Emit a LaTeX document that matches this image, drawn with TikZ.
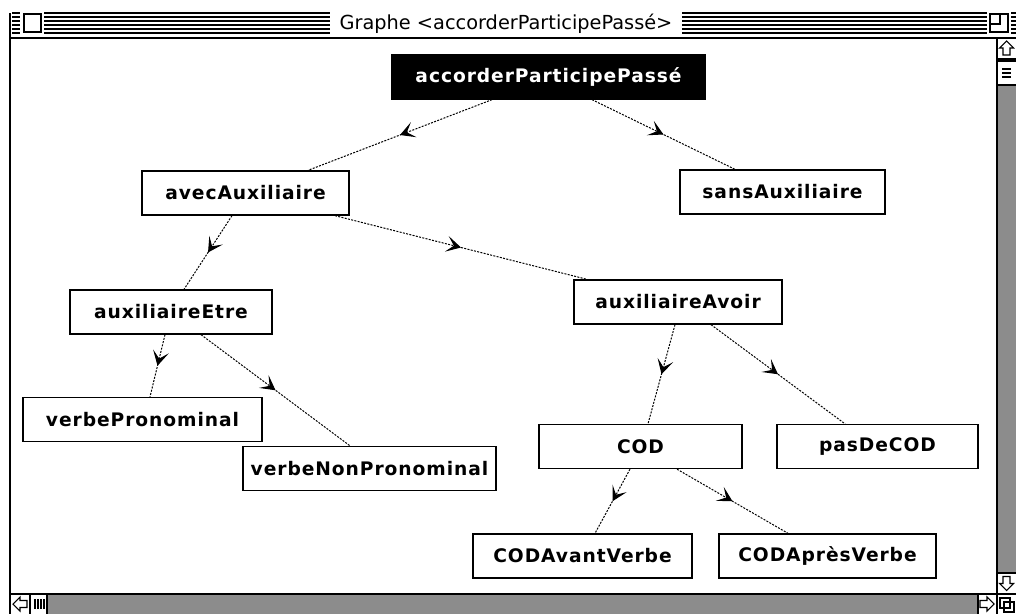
\documentclass[tikz,border=0pt]{standalone}
\usepackage{fontspec}
\usetikzlibrary{arrows.meta,decorations.markings,calc}
\newfontfamily\chifont{DejaVu Sans}
\newfontfamily\chiwide{DejaVu Sans}[LetterSpace=5]

\begin{document}
\begin{tikzpicture}[x=0.75pt,y=0.75pt,yscale=-1,
  classbox/.style={draw,line width=1pt,fill=white,minimum height=33pt,inner sep=0pt,font=\chiwide\bfseries\fontsize{14}{16}\selectfont},
  rootbox/.style={classbox,fill=black,text=white},
  link/.style={line width=0.75pt,dash pattern=on 1.5pt off 1pt,postaction={decorate},
    decoration={markings,mark=at position 0.5 with {\arrow{Stealth[length=11pt,width=12pt,inset=5.5pt]}}}},
  stripe/.style={line width=0.8pt},
  frame/.style={line width=1pt},
  checker/.style={fill=black!45,draw=none}
]
\useasboundingbox (0,0) rectangle (1016,614);

%Title bar stripes
\foreach \y in {13,17,21,25,29,33} {
  \draw[stripe] (12,\y) -- (20,\y);
  \draw[stripe] (44,\y) -- (330,\y);
  \draw[stripe] (682,\y) -- (987,\y);
  \draw[stripe] (1011,\y) -- (1016,\y);
}
%Shape: Close box
\draw[frame,fill=white] (24,14) rectangle (41,32);
%Shape: Zoom box
\draw[frame,fill=white] (990,14) rectangle (1008,32);
\draw[frame] (990,14) rectangle (1000,24);
% Text Node
\node (title) at (506,24) [font=\chifont\fontsize{14.5}{16}\selectfont] {Graphe <accorderParticipePassé>};

%Window frame
\draw[frame] (10,13) -- (10,614);
\draw[frame] (10,38) -- (1016,38);
\draw[frame] (10,594) -- (1016,594);
\draw[frame] (997,38) -- (997,614);

%Vertical scroll bar
\draw[line width=0.8pt,shift={(1006.5,48)}] (0,-7) -- (7,0) -- (3.5,0) -- (3.5,7) -- (-3.5,7) -- (-3.5,0) -- (-7,0) -- cycle;
\fill (997,58) rectangle (1016,62);
\foreach \y in {69,73,77} \draw[line width=0.8pt] (1002,\y) -- (1011,\y);
\draw[frame] (997,85) -- (1016,85);
\fill[checker] (997.7,85.7) rectangle (1016,572.3);
\draw[frame] (997,573) -- (1016,573);
\draw[line width=0.8pt,shift={(1006.5,583.5)}] (0,7) -- (7,0) -- (3.5,0) -- (3.5,-7) -- (-3.5,-7) -- (-3.5,0) -- (-7,0) -- cycle;

%Horizontal scroll bar
\draw[line width=0.8pt,shift={(20,604)}] (-7,0) -- (0,-7) -- (0,-3.5) -- (7,-3.5) -- (7,3.5) -- (0,3.5) -- (0,7) -- cycle;
\draw[frame] (30,594) -- (30,614);
\foreach \x in {35,38,41,44} \draw[line width=0.8pt] (\x,599) -- (\x,609);
\draw[frame] (47,594) -- (47,614);
\fill[checker] (47.7,594.7) rectangle (977.3,614);
\draw[frame] (978,594) -- (978,614);
\draw[line width=0.8pt,shift={(987,604)}] (7,0) -- (0,-7) -- (0,-3.5) -- (-7,-3.5) -- (-7,3.5) -- (0,3.5) -- (0,7) -- cycle;
%Shape: Size box
\draw[line width=0.8pt] (1000,598) rectangle (1010,608);
\draw[line width=0.8pt] (1004,602) rectangle (1014,612);

%Class nodes
\node (root) at (548.5,77) [rootbox,minimum width=234.75pt] {accorderParticipePassé};
\node (avec) at (245.5,193) [classbox,minimum width=155.25pt] {avecAuxiliaire};
\node (sans) at (782.5,192) [classbox,minimum width=153.75pt] {sansAuxiliaire};
\node (etre) at (171,312) [classbox,minimum width=151.5pt] {auxiliaireEtre};
\node (avoir) at (678,302) [classbox,minimum width=156pt] {auxiliaireAvoir};
\node (pron) at (142.5,419.5) [classbox,minimum width=179.25pt] {verbePronominal};
\node (nonpron) at (369.5,468.5) [classbox,minimum width=189.75pt] {verbeNonPronominal};
\node (cod) at (640.5,446.5) [classbox,minimum width=152.25pt] {COD};
\node (pascod) at (877.5,446.5) [classbox,minimum width=150.75pt] {pasDeCOD};
\node (avant) at (582.5,556) [classbox,minimum width=164.25pt] {CODAvantVerbe};
\node (apres) at (827.5,556) [classbox,minimum width=162.75pt] {CODAprèsVerbe};

%Straight Lines
\draw[link] ($(root.south)+(-56.5,0)$) -- ($(avec.north)+(62.5,0)$);
\draw[link] ($(root.south)+(43.5,0)$) -- ($(sans.north)+(-47.5,0)$);
\draw[link] ($(avec.south)+(-13.5,0)$) -- ($(etre.north)+(13,0)$);
\draw[link] ($(avec.south)+(89.5,0)$) -- ($(avoir.north)+(-91,0)$);
\draw[link] ($(etre.south)+(-6,0)$) -- ($(pron.north)+(7.5,0)$);
\draw[link] ($(etre.south)+(30,0)$) -- ($(nonpron.north)+(-19.5,0)$);
\draw[link] ($(avoir.south)+(-3,0)$) -- ($(cod.north)+(7.5,0)$);
\draw[link] ($(avoir.south)+(33,0)$) -- ($(pascod.north)+(-32.5,0)$);
\draw[link] ($(cod.south)+(-10.5,0)$) -- ($(avant.north)+(12.5,0)$);
\draw[link] ($(cod.south)+(36.5,0)$) -- ($(apres.north)+(-39.5,0)$);

\end{tikzpicture}
\end{document}
